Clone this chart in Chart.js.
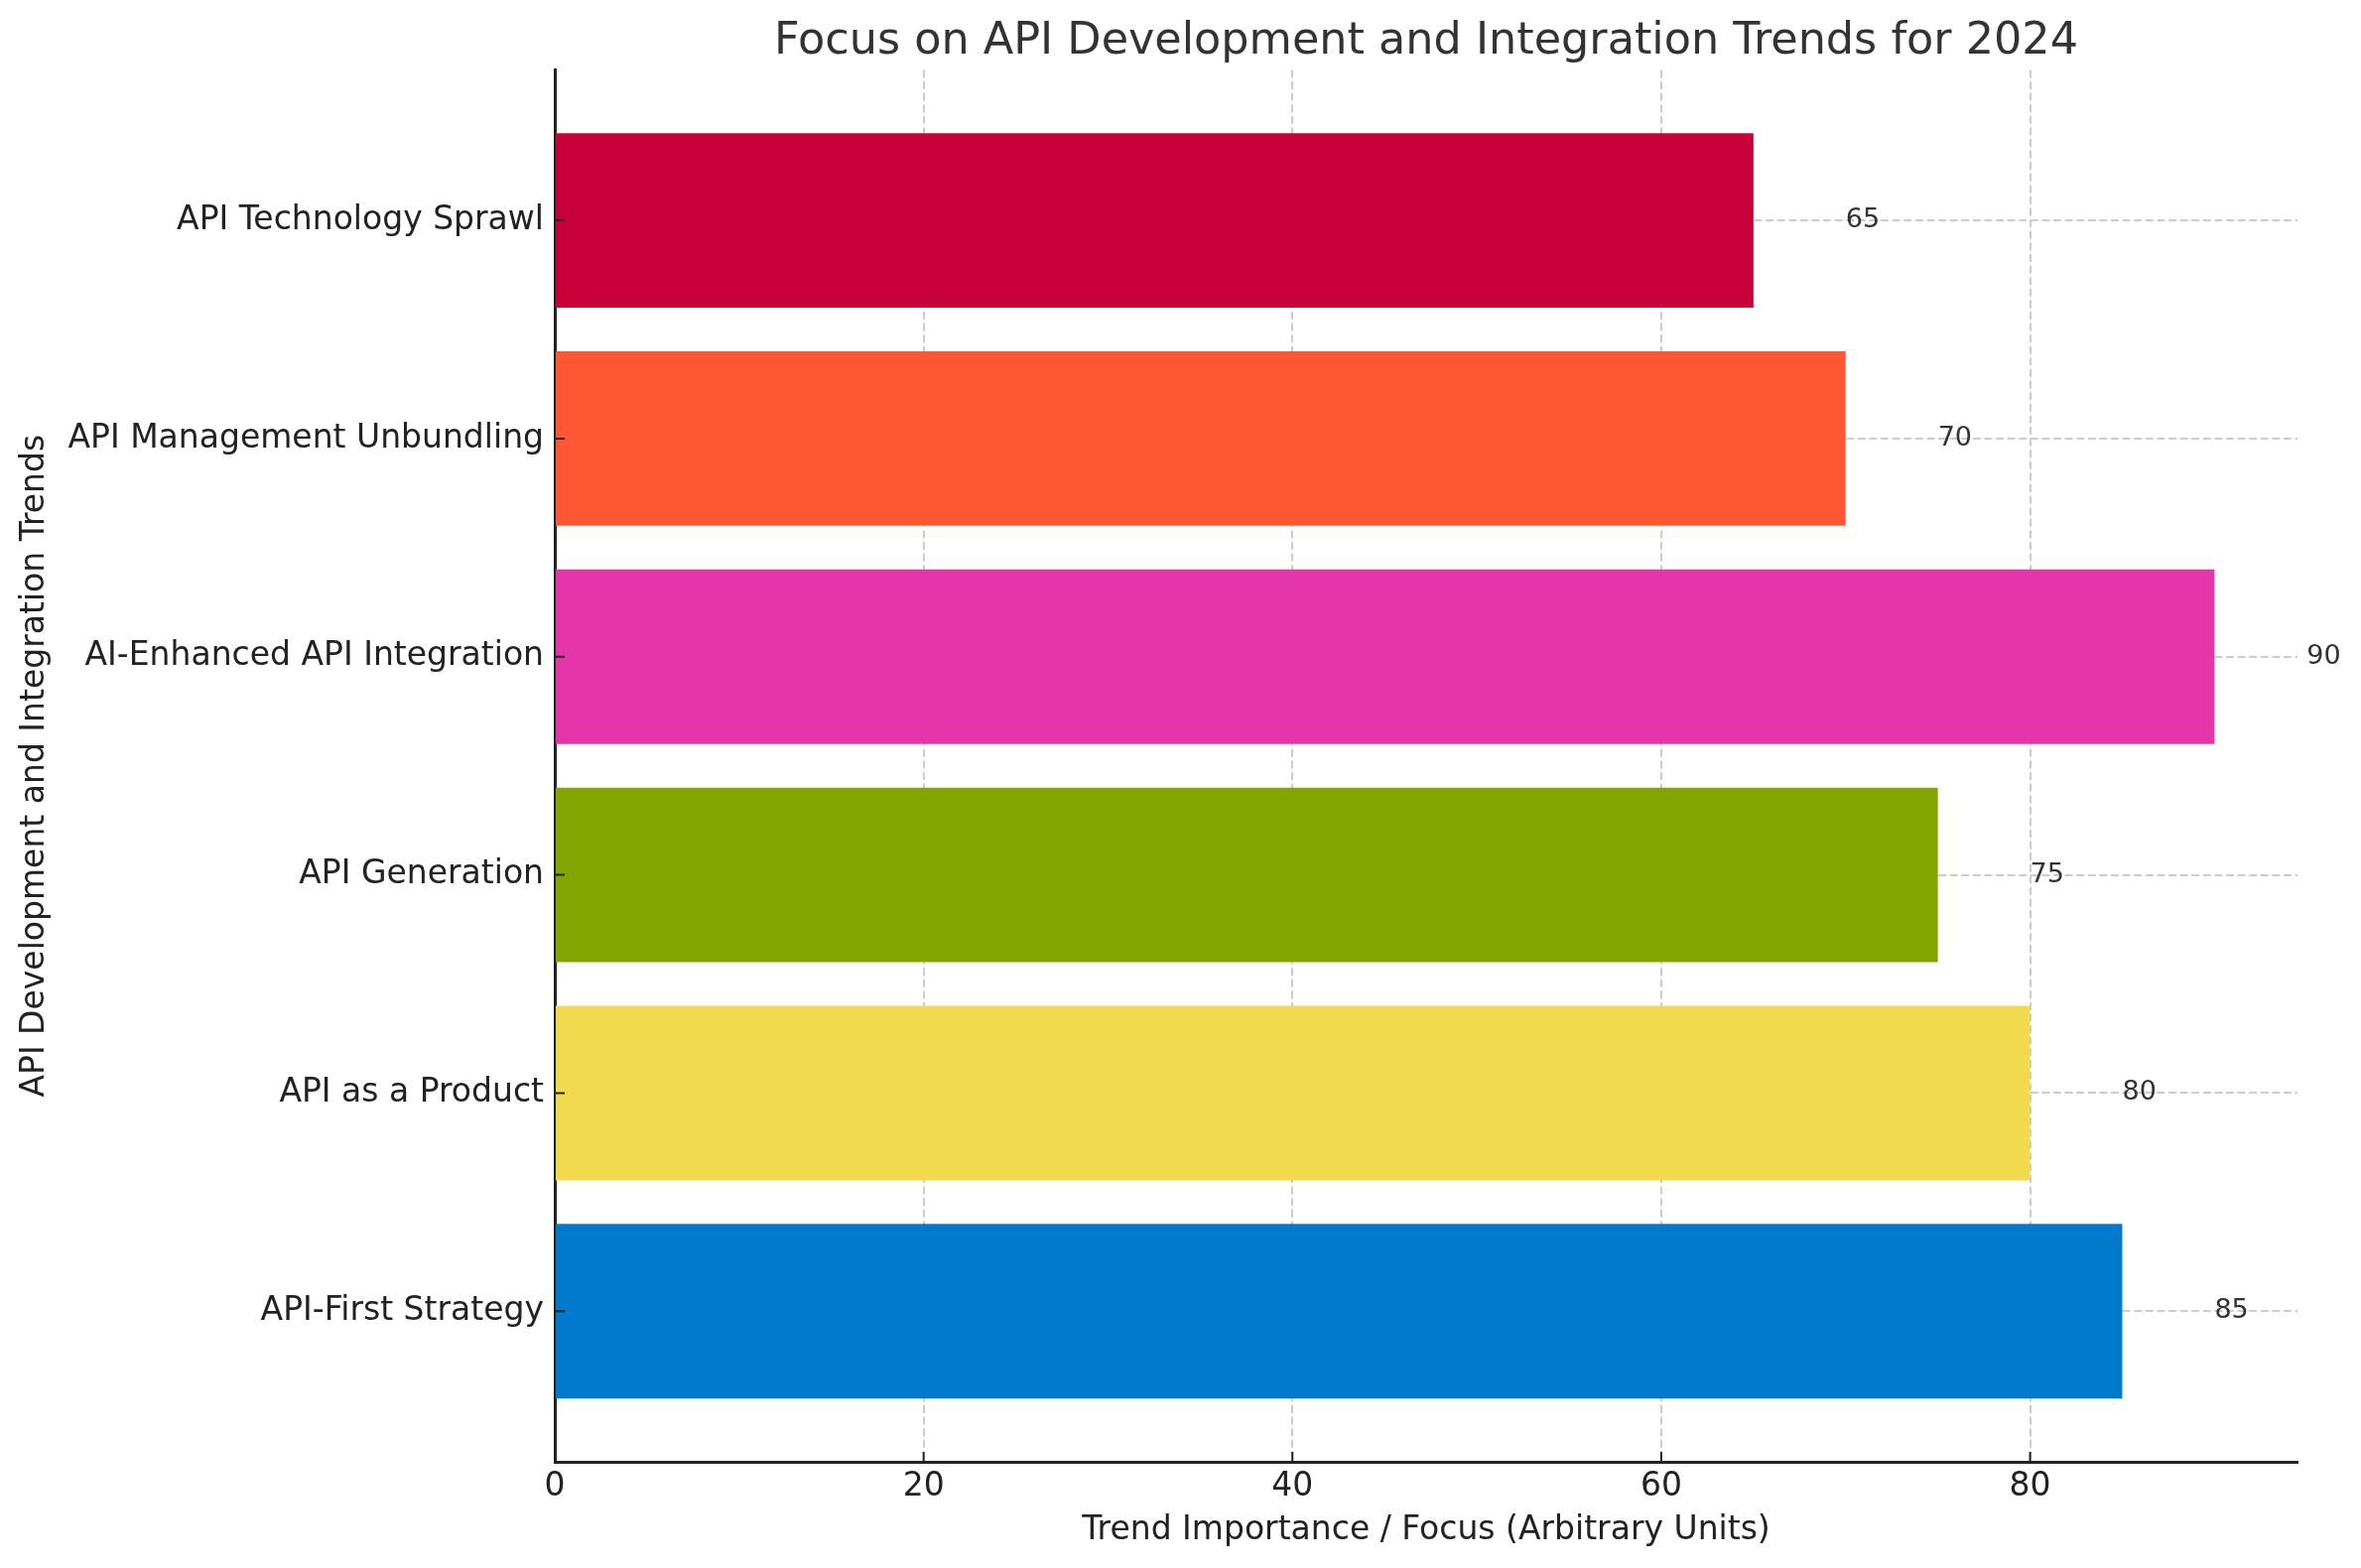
<!DOCTYPE html>
<html>
<head>
<meta charset="utf-8">
<title>API Trends 2024</title>
<script src="https://cdn.jsdelivr.net/npm/chart.js@4.4.1/dist/chart.umd.min.js"></script>
<style>
  html, body { margin: 0; padding: 0; background: #fff; }
  canvas { display: block; }
</style>
</head>
<body>
<canvas id="trendChart" width="2379" height="1580" style="width:2379px;height:1580px"></canvas>
<script>
// categories, bottom to top
const trends = [
    'API-First Strategy',
    'API as a Product',
    'API Generation',
    'AI-Enhanced API Integration',
    'API Management Unbundling',
    'API Technology Sprawl'
];
const focusValues = [85, 80, 75, 90, 70, 65];
const barColors = ['#007ACC', '#F0DB4F', '#84A500', '#E535AB', '#FF5733', '#C70039'];
const xTicks = [0, 20, 40, 60, 80];
const labelOffset = 5; // value labels sit 5 units past the bar end

const FONT = '"DejaVu Sans", sans-serif';

// small inward tick marks, matplotlib-like
const innerTicks = {
    id: 'innerTicks',
    afterDraw(chart) {
        const { ctx, scales: { x, y }, chartArea } = chart;
        ctx.save();
        ctx.strokeStyle = '#222';
        ctx.lineWidth = 2;
        ctx.beginPath();
        y.ticks.forEach(t => {
            const py = y.getPixelForValue(t.value);
            ctx.moveTo(chartArea.left, py);
            ctx.lineTo(chartArea.left + 10, py);
        });
        x.ticks.forEach(t => {
            const px = x.getPixelForValue(t.value);
            ctx.moveTo(px, chartArea.bottom);
            ctx.lineTo(px, chartArea.bottom - 10);
        });
        ctx.stroke();
        ctx.restore();
    }
};

// value labels to the right of each bar
const valueLabels = {
    id: 'valueLabels',
    afterDatasetsDraw(chart) {
        const { ctx, scales: { x, y } } = chart;
        ctx.save();
        ctx.font = '27px ' + FONT;
        ctx.fillStyle = '#333';
        ctx.textAlign = 'left';
        ctx.textBaseline = 'middle';
        focusValues.forEach((v, i) => {
            ctx.fillText(String(v), x.getPixelForValue(v + labelOffset), y.getPixelForValue(i));
        });
        ctx.restore();
    }
};

new Chart(document.getElementById('trendChart'), {
    type: 'bar',
    data: {
        datasets: [{
            data: trends.map((t, i) => ({ x: focusValues[i], y: i })),
            backgroundColor: barColors,
            borderWidth: 0,
            barPercentage: 0.8,
            categoryPercentage: 1.0
        }]
    },
    options: {
        indexAxis: 'y',
        responsive: false,
        animation: false,
        devicePixelRatio: 1,
        layout: { padding: { left: 0, right: 64, top: 0, bottom: 0 } },
        plugins: {
            legend: { display: false },
            tooltip: { enabled: false },
            title: {
                display: true,
                fullSize: false,
                text: 'Focus on API Development and Integration Trends for 2024',
                color: '#333',
                font: { family: FONT, size: 44.5, weight: 'normal' },
                padding: { top: 16, bottom: 1 }
            }
        },
        scales: {
            x: {
                type: 'linear',
                min: 0,
                max: 94.5,
                z: 1,
                afterBuildTicks: s => { s.ticks = xTicks.map(v => ({ value: v })); },
                afterFit: s => { s.height = 107; },
                grid: { color: '#cccccc', lineWidth: 2, drawTicks: false },
                border: { display: true, color: '#222', width: 3, dash: [8, 3.6] },
                ticks: {
                    color: '#222',
                    padding: 6,
                    font: { family: FONT, size: 33 }
                },
                title: {
                    display: true,
                    text: 'Trend Importance / Focus (Arbitrary Units)',
                    color: '#222',
                    font: { family: FONT, size: 33 },
                    padding: { top: 0, bottom: 18 }
                }
            },
            y: {
                type: 'linear',
                min: -0.69,
                max: 5.69,
                offset: false,
                z: 1,
                afterBuildTicks: s => { s.ticks = trends.map((t, i) => ({ value: i })); },
                afterFit: s => { s.width = 559; },
                grid: { color: '#cccccc', lineWidth: 2, drawTicks: false, offset: false },
                border: { display: true, color: '#222', width: 3, dash: [8, 3.6] },
                ticks: {
                    color: '#222',
                    padding: 11,
                    font: { family: FONT, size: 33 },
                    callback: v => trends[v]
                },
                title: {
                    display: true,
                    text: 'API Development and Integration Trends',
                    color: '#222',
                    font: { family: FONT, size: 33 },
                    padding: { top: 16, bottom: 0 }
                }
            }
        }
    },
    plugins: [valueLabels, innerTicks]
});
</script>
</body>
</html>
